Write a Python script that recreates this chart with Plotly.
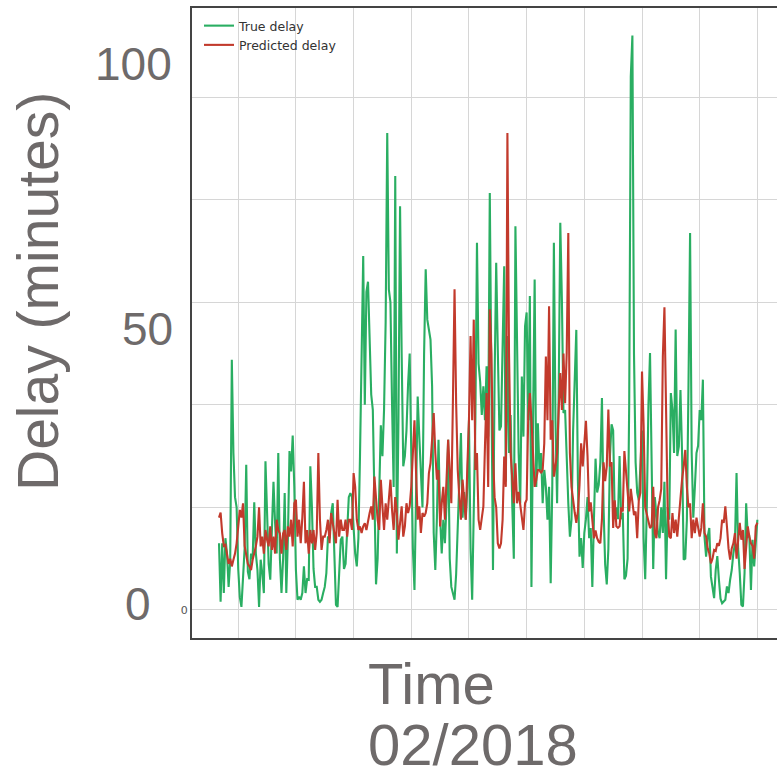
import pandas as pd
import plotly.graph_objects as go

# Delay values (minutes), one sample every 2 hours through February 2018
true_delay = [
    13, 1.6, 13, 3.3, 14, 11, 4.5, 9.5, 48.8, 30.6, 22, 20,
    8, 2.5, 0.6, 5.9, 12, 28.3, 7.5, 6, 11, 10, 21, 11,
    7.8, 0.6, 9.8, 7.2, 3.3, 29, 17.6, 9, 5.9, 18, 25, 17,
    11, 30.6, 10, 3.3, 10, 22.8, 3.3, 14, 31, 27, 34, 24,
    7.8, 2, 2.6, 2, 3.3, 8.5, 3.3, 6, 5.9, 28, 20, 8,
    4.5, 4.5, 2, 1.6, 2, 3.3, 4.5, 7.2, 14.3, 14, 18.9, 20.8,
    11, 1, 0.6, 6.5, 13.7, 14.3, 8, 9, 17, 22, 22.8, 22,
    16, 11, 8.5, 14, 30, 55, 69, 40, 62, 64, 50, 42,
    39, 24, 5, 10, 21, 36, 30, 39, 56, 93, 62.5, 60,
    40, 24, 84.6, 11, 37, 78.7, 50, 28, 30, 35, 44, 50,
    30.6, 12, 3.9, 20, 41.6, 33.8, 27.3, 20, 50, 66.4, 56.6, 55,
    52.7, 43.6, 15, 7.8, 18, 33.2, 18, 11, 17.6, 13, 20.8, 33.2,
    10, 4.5, 3.3, 2, 7, 17, 22.8, 34.5, 18, 23, 17.6, 24,
    37, 12, 2, 20, 37, 71.6, 48, 44.5, 38, 43.6, 37, 47.5,
    33.8, 81.3, 40, 7.8, 45, 67.7, 50.7, 35, 35.8, 50, 67, 25,
    53.4, 30.6, 38, 20.8, 10, 74.8, 46.8, 30.6, 20.8, 45.5, 33.8, 55.3,
    58, 37, 61.2, 4.5, 37, 64.4, 24, 36.4, 27.3, 30.6, 20.8, 27.3,
    24, 17.6, 24, 5.2, 24, 71.6, 37, 20.8, 42.3, 75.5, 60.5, 38.4,
    39, 27.3, 20.8, 14.3, 17.6, 35, 45, 54.6, 25.1, 10.4, 14, 8.2,
    15, 17.7, 22, 14, 16, 4.5, 17.7, 29.5, 22.9, 24.4, 28.8, 41.3,
    20, 8.9, 5, 11.9, 30, 36.2, 35, 17.7, 20, 17.7, 30, 17.7,
    19, 6, 6.7, 10, 40, 104, 112, 50, 28.8, 22.9, 21.4, 28,
    35, 14, 6, 20, 39.8, 50.1, 32.5, 8, 22, 17.7, 15, 14,
    20, 15, 25, 6, 20, 17.6, 42.3, 39, 30.6, 54.7, 30, 31.9,
    42.9, 30.6, 9.8, 10, 17.6, 43.6, 73.5, 30.6, 18, 24, 30.6, 32,
    39, 37, 44.9, 14.3, 10.4, 14.3, 16, 6.5, 4.6, 2.3, 7.8, 10.5,
    5.9, 2.2, 1.3, 1.6, 2, 4.6, 3.3, 5.9, 7.8, 11, 13, 26.7,
    12, 7.2, 1, 0.7, 7.2, 20.8, 14.3, 14.3, 3.9, 13.7, 8.5, 13, 17.6,
]

predicted_delay = [
    18, 19, 15, 12.5, 12.7, 11, 9, 10, 8.5, 9.8, 11, 13,
    16, 19.5, 18, 20.8, 12.5, 11, 9, 8.5, 7.8, 9.8, 11, 12.4,
    14.3, 20, 12.4, 14.3, 11, 15.6, 13.7, 12.4, 16.3, 11.7, 14.3, 11,
    17.6, 15.6, 14.9, 11, 14.9, 15.6, 11.7, 16.3, 14.3, 17.6, 12.4, 20.8,
    21.5, 14.3, 17.6, 13, 18, 25, 13, 15.6, 11, 15.6, 13, 15.6,
    11.7, 15, 30.6, 17.6, 11.7, 14.3, 14.3, 15.6, 17.6, 13, 18.9, 16.9,
    15, 13, 21.5, 14.3, 17.6, 15.6, 15.6, 17.6, 14.3, 17.6, 17.6, 15.6,
    26.7, 24, 17.6, 15.6, 16.3, 15, 16.3, 16.9, 15.6, 17.6, 18.9, 20.2,
    17.6, 26, 21.5, 17.6, 15.6, 25.4, 20.2, 15.6, 20.8, 17.6, 21.5, 25.4,
    19.5, 15.6, 22, 18.9, 13.7, 17.6, 20.2, 14.3, 16.3, 20.8, 18.9, 20.2,
    24, 30.6, 37, 26.7, 17.6, 20.2, 15, 18.9, 18.2, 18.9, 20.8, 26.7,
    28.6, 33.2, 38.4, 30.6, 25.4, 27.3, 16.3, 20.8, 24, 17.6, 25, 33.2,
    27.3, 20.8, 41, 62.5, 40.3, 27.3, 22, 17.6, 25.4, 22, 17.6, 28,
    37, 53.4, 37, 56.6, 27.3, 30.6, 17.6, 15.6, 17.6, 20.2, 32, 42.3,
    24, 58.6, 50, 30.6, 22, 20, 13, 12, 13, 17.6, 29.9, 24,
    93, 50, 30.6, 25, 20.8, 28.6, 20.8, 23, 20.8, 17.6, 15.6, 20.8,
    21.5, 37.7, 42.3, 37, 30.6, 24, 25.4, 27.3, 27.3, 26.7, 27.3, 32.5,
    49.4, 37, 59.2, 33.2, 37, 26, 28, 30.6, 39, 46.2, 39, 50,
    40.3, 50, 73.5, 30.6, 24, 20.8, 19, 17, 19.2, 24.4, 32.5, 28,
    32.5, 36.9, 30, 19.2, 21, 17.7, 14, 15.5, 14, 13.3, 13, 17.7,
    28.8, 25.1, 28, 39.1, 28, 28.8, 16, 21.4, 16.3, 16, 16.3, 20,
    19.2, 31, 27, 22.2, 19.2, 23.6, 20.7, 18.5, 19.2, 14, 21.4, 22.9,
    46.5, 36, 20, 18.5, 17.7, 16, 16.3, 24, 15, 14, 20, 21.4,
    23.6, 49.4, 59, 40, 20, 14.3, 14, 18.9, 15, 17.6, 14.3, 18,
    22, 25.4, 28, 31.2, 24, 20, 20.8, 14, 17.6, 15, 18, 16.3,
    14.3, 16, 20.8, 15, 14.3, 12, 11, 9.1, 10, 11.7, 11.5, 13,
    12.5, 14, 17.6, 17, 20.2, 16.3, 12, 9.8, 12, 13, 15, 10,
    14.3, 17, 13.7, 15.6, 8, 12.4, 16.3, 14.3, 13, 12.5, 10, 16.3, 17,
]

start_time = "2018-02-01 00:00"
sample_freq = "2h"
y_tick_values = [0, 20, 40, 60, 80, 100]
y_tick_text = ["0", "", "", "", "", ""]
big_y_labels = ["100", "50", "0"]
series_names = ["True delay", "Predicted delay"]
x_title_lines = ["Time", "02/2018"]
y_title = "Delay (minutes)"

t_true = pd.date_range(start_time, periods=len(true_delay), freq=sample_freq)
t_pred = pd.date_range(start_time, periods=len(predicted_delay), freq=sample_freq)

GREEN = "#2aae62"
RED = "#c23a2c"
TXT = "#6e6a6a"

fig = go.Figure()
fig.add_trace(go.Scatter(x=t_true, y=true_delay, mode="lines", name=series_names[0],
                         line=dict(color=GREEN, width=2.1)))
fig.add_trace(go.Scatter(x=t_pred, y=predicted_delay, mode="lines", name=series_names[1],
                         line=dict(color=RED, width=2.1)))

L, R, T, B = 192, 0, 8, 139
W = H = 777
pw = W - L - R
ph = H - T - B

def px_x(x):
    return (x - L) / pw

def px_y(y):
    return (H - B - y) / ph

annotations = []
# big overlay y labels
for txt, xr, yc in zip(big_y_labels, [174, 175, 153], [64, 329, 604]):
    annotations.append(dict(text=txt, x=px_x(xr), y=px_y(yc), xref="paper", yref="paper",
                            xanchor="right", yanchor="middle", showarrow=False,
                            font=dict(family="Liberation Sans, Arial", size=46, color=TXT)))
annotations.append(dict(text=y_title, x=px_x(38), y=px_y(292), xref="paper", yref="paper",
                        xanchor="center", yanchor="middle", textangle=-90, showarrow=False,
                        font=dict(family="Liberation Sans, Arial", size=57, color=TXT)))
for txt, yc in zip(x_title_lines, [683, 744]):
    annotations.append(dict(text=txt, x=px_x(366), y=px_y(yc), xref="paper", yref="paper",
                            xanchor="left", yanchor="middle", showarrow=False,
                            font=dict(family="Liberation Sans, Arial", size=58, color=TXT)))

fig.update_layout(
    width=W, height=H,
    margin=dict(l=L, r=R, t=T, b=B, pad=0),
    paper_bgcolor="white", plot_bgcolor="white",
    showlegend=True,
    legend=dict(x=px_x(199), y=px_y(11), xanchor="left", yanchor="top",
                bgcolor="rgba(255,255,255,0)", borderwidth=0,
                font=dict(family="DejaVu Sans", size=12.5, color="#333333"),
                tracegroupgap=0),
    annotations=annotations,
)
fig.update_xaxes(
    range=["2018-01-30 14:18", "2018-03-02 00:30"],
    tick0="2018-02-02", dtick=3 * 24 * 3600 * 1000,
    showticklabels=False, ticks="",
    showgrid=True, gridcolor="#d6d6d6", gridwidth=1.2,
    showline=True, linecolor="#444444", linewidth=2, mirror=True,
    zeroline=False,
)
fig.update_yaxes(
    range=[-5.46, 117.35],
    tickvals=y_tick_values, ticktext=y_tick_text,
    tickfont=dict(family="DejaVu Sans", size=11, color="#555555"),
    ticks="", ticklen=0,
    showgrid=True, gridcolor="#d6d6d6", gridwidth=1.2,
    showline=True, linecolor="#444444", linewidth=2, mirror=False,
    zeroline=False,
)

fig.write_html(
    "out.html",
    config={"displayModeBar": False},
    post_script="document.body.style.margin='0';document.body.style.overflow='hidden';",
)
